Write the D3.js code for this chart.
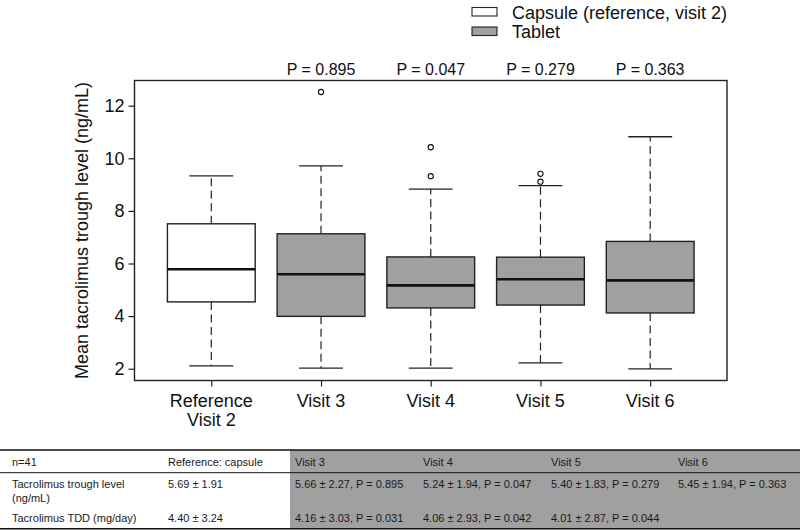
<!DOCTYPE html>
<html>
<head>
<meta charset="utf-8">
<script src="https://cdn.jsdelivr.net/npm/d3@7"></script>
<style>
  html, body { margin: 0; padding: 0; background: #fff; }
  svg { display: block; font-family: "Liberation Sans", Arial, sans-serif; }
</style>
</head>
<body>
<svg id="chart" width="800" height="530"></svg>
<script>
// ---- data ----
const categories = ["Reference\nVisit 2", "Visit 3", "Visit 4", "Visit 5", "Visit 6"];
const groups = ["Capsule", "Tablet", "Tablet", "Tablet", "Tablet"];
const whiskerLow = [2.11, 2.02, 2.02, 2.22, 1.99];
const q1 = [4.54, 3.99, 4.31, 4.42, 4.12];
const medians = [5.78, 5.59, 5.17, 5.40, 5.36];
const q3 = [7.51, 7.13, 6.25, 6.24, 6.84];
const whiskerHigh = [9.33, 9.71, 8.83, 8.96, 10.82];
const outliers = [[], [12.52], [10.42, 9.32], [9.41, 9.11], []];
const pLabels = ["", "P = 0.895", "P = 0.047", "P = 0.279", "P = 0.363"];
const yTicks = [2, 4, 6, 8, 10, 12];
const legendLabels = ["Capsule (reference, visit 2)", "Tablet"];

const tableHeader = ["n=41", "Reference: capsule", "Visit 3", "Visit 4", "Visit 5", "Visit 6"];
const rowLabels = [["Tacrolimus trough level", "(ng/mL)"], ["Tacrolimus TDD (mg/day)"]];
const rowReference = ["5.69 \u00b1 1.91", "4.40 \u00b1 3.24"];
const troughByVisit = ["5.66 \u00b1 2.27, P = 0.895", "5.24 \u00b1 1.94, P = 0.047", "5.40 \u00b1 1.83, P = 0.279", "5.45 \u00b1 1.94, P = 0.363"];
const tddByVisit = ["4.16 \u00b1 3.03, P = 0.031", "4.06 \u00b1 2.93, P = 0.042", "4.01 \u00b1 2.87, P = 0.044", ""];

// ---- styles ----
const fillColor = { Capsule: "#ffffff", Tablet: "#a0a0a0" };
const strokeColor = "#222";

const svg = d3.select("#chart");

const plot = { left: 134.5, right: 727, top: 80.5, bottom: 380.5 };
const x = d3.scaleLinear().domain([0.3, 5.7]).range([plot.left, plot.right]);
const y = d3.scaleLinear().domain([2, 12]).range([368.7, 105.7]);
const boxW = x(0.8) - x(0);
const capW = x(0.2) - x(0);

// y axis
const yAxis = d3.axisLeft(y).tickValues(yTicks).tickSize(6).tickPadding(4).tickFormat(d3.format("d"));
const gy = svg.append("g").attr("transform", `translate(${plot.left},0)`).call(yAxis);
gy.select(".domain").remove();
gy.selectAll("line").attr("stroke", strokeColor).attr("stroke-width", 1.2);
gy.selectAll("text").attr("font-size", 18).attr("fill", "#111").attr("font-family", "Liberation Sans, Arial, sans-serif");

// x axis ticks
const xAxis = d3.axisBottom(x).tickValues(d3.range(1, 6)).tickSize(6).tickFormat("");
const gx = svg.append("g").attr("transform", `translate(0,${plot.bottom})`).call(xAxis);
gx.select(".domain").remove();
gx.selectAll("line").attr("stroke", strokeColor).attr("stroke-width", 1.2);

categories.forEach((c, i) => {
  const t = svg.append("text").attr("x", x(i + 1)).attr("y", 407)
    .attr("text-anchor", "middle").attr("font-size", 18).attr("fill", "#111");
  c.split("\n").forEach((line, k) => {
    t.append("tspan").attr("x", x(i + 1)).attr("dy", k === 0 ? 0 : 19).text(line);
  });
});

// y title
svg.append("text")
  .attr("transform", `translate(82,${(plot.top + plot.bottom) / 2}) rotate(-90)`)
  .attr("text-anchor", "middle").attr("dy", "0.35em")
  .attr("font-size", 18).attr("fill", "#111")
  .text("Mean tacrolimus trough level (ng/mL)");

// boxes
const idx = d3.range(categories.length);
const g = svg.append("g");
idx.forEach(i => {
  const cx = x(i + 1);
  // whiskers
  g.append("line").attr("x1", cx).attr("x2", cx).attr("y1", y(q3[i])).attr("y2", y(whiskerHigh[i]))
    .attr("stroke", strokeColor).attr("stroke-width", 1.2).attr("stroke-dasharray", "8,4.5");
  g.append("line").attr("x1", cx).attr("x2", cx).attr("y1", y(q1[i])).attr("y2", y(whiskerLow[i]))
    .attr("stroke", strokeColor).attr("stroke-width", 1.2).attr("stroke-dasharray", "8,4.5");
  // caps
  [whiskerHigh[i], whiskerLow[i]].forEach(v => {
    g.append("line").attr("x1", cx - capW).attr("x2", cx + capW).attr("y1", y(v)).attr("y2", y(v))
      .attr("stroke", strokeColor).attr("stroke-width", 1.3);
  });
  // box
  g.append("rect").attr("x", cx - boxW / 2).attr("width", boxW)
    .attr("y", y(q3[i])).attr("height", y(q1[i]) - y(q3[i]))
    .attr("fill", fillColor[groups[i]]).attr("stroke", strokeColor).attr("stroke-width", 1.4);
  // median
  g.append("line").attr("x1", cx - boxW / 2).attr("x2", cx + boxW / 2)
    .attr("y1", y(medians[i])).attr("y2", y(medians[i]))
    .attr("stroke", "#111").attr("stroke-width", 2.6);
  // outliers
  outliers[i].forEach(v => {
    g.append("circle").attr("cx", cx).attr("cy", y(v)).attr("r", 2.6)
      .attr("fill", "none").attr("stroke", "#111").attr("stroke-width", 1.1);
  });
  // p labels
  if (pLabels[i]) {
    svg.append("text").attr("x", cx).attr("y", 75).attr("text-anchor", "middle")
      .attr("font-size", 16).attr("fill", "#111").text(pLabels[i]);
  }
});

// frame
svg.append("rect").attr("x", plot.left).attr("y", plot.top)
  .attr("width", plot.right - plot.left).attr("height", plot.bottom - plot.top)
  .attr("fill", "none").attr("stroke", strokeColor).attr("stroke-width", 1.4);

// legend
legendLabels.forEach((lab, k) => {
  const yy = 7.5 + k * 19.5;
  svg.append("rect").attr("x", 472).attr("y", yy).attr("width", 25).attr("height", 8.5)
    .attr("fill", fillColor[k === 0 ? "Capsule" : "Tablet"]).attr("stroke", strokeColor).attr("stroke-width", 1.1);
  svg.append("text").attr("x", 512).attr("y", yy + 11).attr("font-size", 18).attr("fill", "#111").text(lab);
});

// ---- table ----
const tbl = svg.append("g").attr("font-size", 11).attr("fill", "#1a1a1a");
const colX = [12, 168, 295, 423, 551, 678];
tbl.append("rect").attr("x", 290).attr("y", 450).attr("width", 510).attr("height", 78.5)
  .attr("fill", "#a0a0a0");
tbl.append("line").attr("x1", 0).attr("x2", 800).attr("y1", 450).attr("y2", 450)
  .attr("stroke", "#111").attr("stroke-width", 1.6);
tbl.append("line").attr("x1", 0).attr("x2", 800).attr("y1", 472.7).attr("y2", 472.7)
  .attr("stroke", "#111").attr("stroke-width", 1);
tbl.append("line").attr("x1", 0).attr("x2", 800).attr("y1", 528.7).attr("y2", 528.7)
  .attr("stroke", "#111").attr("stroke-width", 1.4);

tableHeader.forEach((h, j) => {
  tbl.append("text").attr("x", colX[j]).attr("y", 466).text(h);
});
rowLabels[0].forEach((l, k) => {
  tbl.append("text").attr("x", colX[0]).attr("y", 488 + k * 14).text(l);
});
tbl.append("text").attr("x", colX[0]).attr("y", 521.5).text(rowLabels[1][0]);
tbl.append("text").attr("x", colX[1]).attr("y", 488).text(rowReference[0]);
tbl.append("text").attr("x", colX[1]).attr("y", 521.5).text(rowReference[1]);
troughByVisit.forEach((t, j) => {
  tbl.append("text").attr("x", colX[j + 2]).attr("y", 488).text(t);
});
tddByVisit.forEach((t, j) => {
  if (t) tbl.append("text").attr("x", colX[j + 2]).attr("y", 521.5).text(t);
});
</script>
</body>
</html>
